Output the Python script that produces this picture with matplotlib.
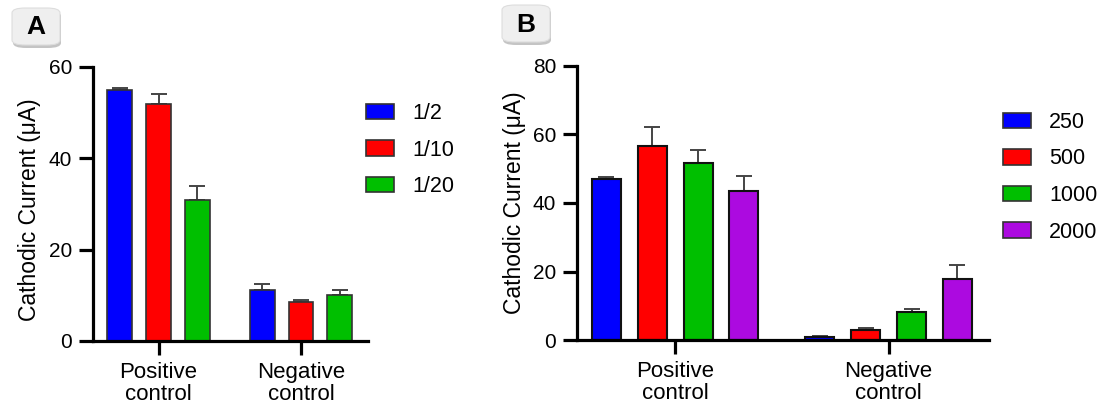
# Import Packages
import numpy as np
import matplotlib.pyplot as plt
from matplotlib.patches import FancyBboxPatch, Patch

plt.rcParams['font.family'] = ['Liberation Sans', 'DejaVu Sans']

# Data
groups = ["Positive\ncontrol", "Negative\ncontrol"]

dil_labels = ["1/2", "1/10", "1/20"]
dil_means = [[55.0, 11.2], [51.9, 8.5], [30.9, 10.1]]
dil_err = [[0.5, 1.2], [2.2, 0.5], [3.1, 1.1]]

conc_labels = ["250", "500", "1000", "2000"]
conc_means = [[47.1, 0.8], [56.6, 2.8], [51.6, 8.2], [43.4, 17.9]]
conc_err = [[0.5, 0.4], [5.5, 0.6], [4.0, 0.9], [4.5, 3.9]]

colors = ["#0000FF", "#FF0000", "#00BF00", "#AC0AE0"]

fig = plt.figure(figsize=(11.09, 4.12), dpi=100)
axA = fig.add_axes([93/1109, 71/412, 275/1109, 274/412])
axB = fig.add_axes([577/1109, 72/412, 412/1109, 274/412])


def draw_panel(ax, labels, means, errs, width, step, ymax, yticks, edge, lw):
    x = np.arange(len(groups))
    n = len(labels)
    for i in range(n):
        pos = x + (i - (n - 1) / 2) * step
        ax.bar(pos, means[i], width=width, color=colors[i], edgecolor=edge,
               linewidth=lw, zorder=2)
        ax.errorbar(pos, means[i], yerr=[np.zeros(len(errs[i])), errs[i]], fmt='none',
                    ecolor="#444444", elinewidth=1.4, capsize=6, capthick=1.4, zorder=1)
    ax.set_xlim(-0.46, 1.47)
    ax.set_ylim(0, ymax)
    ax.set_yticks(yticks)
    ax.set_xticks(x)
    ax.set_xticklabels(groups, fontsize=16, linespacing=1.1)
    for s in ["top", "right"]:
        ax.spines[s].set_visible(False)
    for s in ["left", "bottom"]:
        ax.spines[s].set_linewidth(2.3)
    ax.tick_params(axis='both', width=2.3, length=10, labelsize=15)
    ax.tick_params(axis='x', pad=5, labelsize=16)
    ax.tick_params(axis='y', pad=5)
    ax.set_ylabel("Cathodic Current (\u03bcA)", fontsize=16.5)


draw_panel(axA, dil_labels, dil_means, dil_err, 0.175, 0.273, 60, [0, 20, 40, 60], "#333333", 1.2)
draw_panel(axB, conc_labels, conc_means, conc_err, 0.136, 0.2146, 80, [0, 20, 40, 60, 80], "#111111", 1.5)
axA.yaxis.set_label_coords(-0.19, 0.48)
axB.yaxis.set_label_coords(-0.125, 0.5)

# Legends
for ax, labels, anchor in [(axA, dil_labels, (366/1109, 1 - 103/412)),
                           (axB, conc_labels, (1003/1109, 1 - 112/412))]:
    handles = [Patch(facecolor=colors[i], edgecolor="#333333", linewidth=1.2)
               for i in range(len(labels))]
    fig.legend(handles, labels, loc='upper left', bbox_to_anchor=anchor, frameon=False,
               fontsize=15.5, handlelength=1.3, handleheight=0.7, labelspacing=0.72,
               handletextpad=0.85, borderpad=0, borderaxespad=0)

# Panel letters
for letter, (x0, y0) in [("A", (12, 8)), ("B", (502, 5))]:
    w, h = 48, 37
    shadow = FancyBboxPatch(((x0 + 1) / 1109, 1 - (y0 + h + 3) / 412), w / 1109, h / 412,
                            boxstyle="round,pad=0,rounding_size=0.012", transform=fig.transFigure,
                            facecolor="#c4c4c4", edgecolor="none")
    box = FancyBboxPatch((x0 / 1109, 1 - (y0 + h) / 412), w / 1109, h / 412,
                         boxstyle="round,pad=0,rounding_size=0.012", transform=fig.transFigure,
                         facecolor="#efefef", edgecolor="#dddddd", linewidth=0.8)
    fig.patches.append(shadow)
    fig.patches.append(box)
    fig.text((x0 + w / 2) / 1109, 1 - (y0 + h / 2 + 1) / 412, letter, fontsize=19,
             fontweight='bold', ha='center', va='center')

plt.savefig("out.png", dpi=100)
